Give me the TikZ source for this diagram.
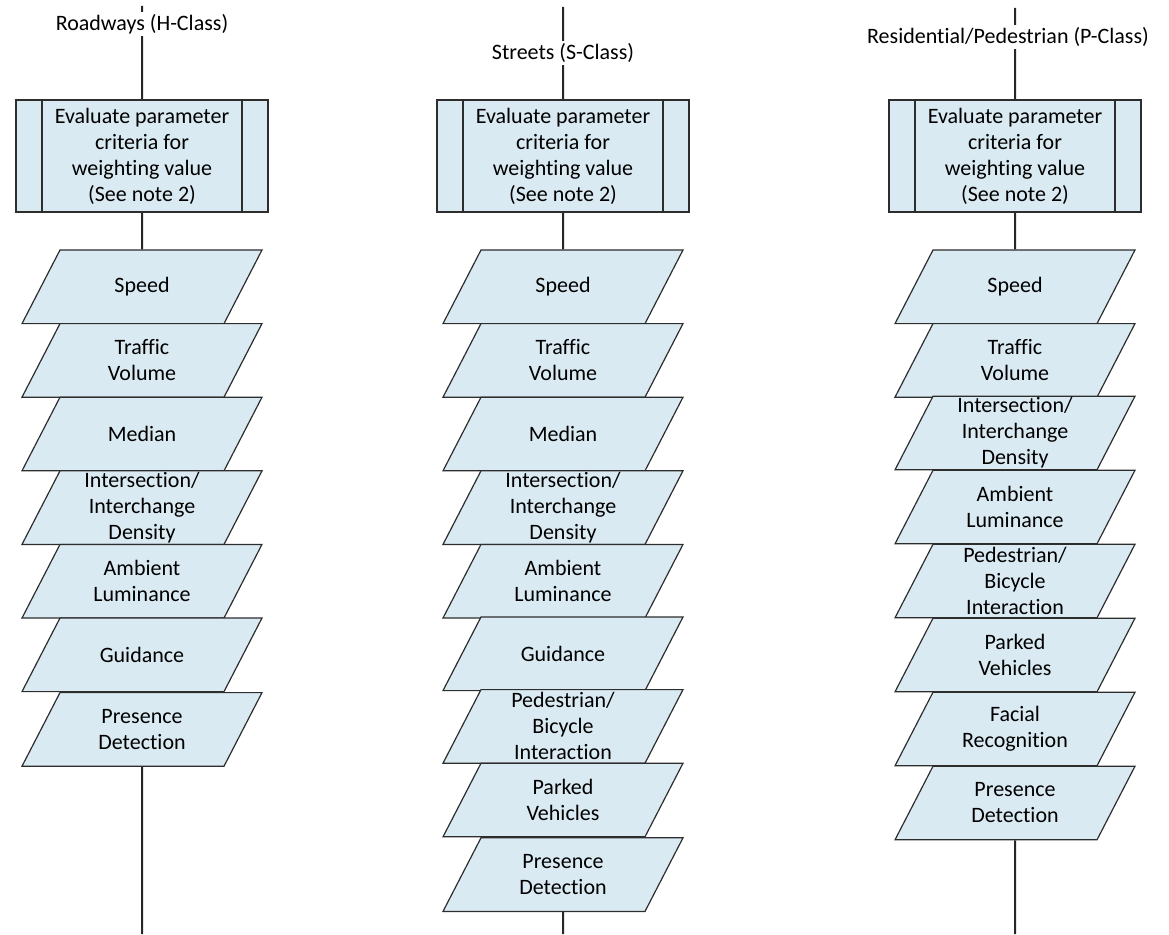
\documentclass[tikz,border=0pt]{standalone}
\usepackage{fontspec}
\setmainfont{Carlito}[Ligatures=CommonOff]
\usepackage{tikz}
\usetikzlibrary{positioning}
\usetikzlibrary{shapes.geometric}
\usetikzlibrary{backgrounds}
\usepackage{xcolor}

\definecolor{boxblue}{RGB}{218,234,242}
\definecolor{edge}{RGB}{45,45,45}
\newcommand{\boxfont}{\fontsize{22}{26}\selectfont}
% fixed text box, so every parallelogram gets the same size and slant
\newcommand{\ptext}[1]{\parbox[c][73.6pt][c]{164pt}{\centering #1}}

\tikzset{
    cls/.style={fill=white, inner sep=2pt, font=\boxfont},
    evalbox/.style={rectangle, draw=edge, line width=1.2pt, fill=boxblue,
        minimum width=252pt, minimum height=112pt, inner sep=0pt,
        align=center, font=\boxfont,
        path picture={
            \draw[edge, line width=1.2pt]
                ([xshift=26pt]path picture bounding box.north west) -- ([xshift=26pt]path picture bounding box.south west)
                ([xshift=-26pt]path picture bounding box.north east) -- ([xshift=-26pt]path picture bounding box.south east);
        }},
    param/.style={trapezium, trapezium left angle=62.7, trapezium right angle=117.3,
        draw=edge, line width=1.2pt, fill=boxblue, inner sep=0pt, font=\boxfont},
    conn/.style={draw=black!85, line width=2pt}
}

\begin{document}
\begin{tikzpicture}[x=1pt, y=-1pt]
            \useasboundingbox (0,0) rectangle (1169,934);

            % Roadways
            \coordinate (htop) at (142, 6);
            \node[cls] (hcls) at (142, 24) {Roadways (H-Class)};
            \node[evalbox] (heval) at (142, 156) {Evaluate parameter\\criteria for\\weighting value\\(See note 2)};
            \node[param] (h1) at (142, 286.8) {\ptext{Speed}};
            \node[param] (h2) at (142, 360.4) {\ptext{Traffic\\Volume}};
            \node[param] (h3) at (142, 434.0) {\ptext{Median}};
            \node[param] (h4) at (142, 507.6) {\ptext{Intersection/\\Interchange\\Density}};
            \node[param] (h5) at (142, 581.2) {\ptext{Ambient\\Luminance}};
            \node[param] (h6) at (142, 654.8) {\ptext{Guidance}};
            \node[param] (h7) at (142, 729.4) {\ptext{Presence\\Detection}};
            \coordinate (hbot) at (142, 934);

            % Streets
            \coordinate (stop) at (563, 7);
            \node[cls] (scls) at (563, 53) {Streets (S-Class)};
            \node[evalbox] (seval) at (563, 156) {Evaluate parameter\\criteria for\\weighting value\\(See note 2)};
            \node[param] (s1) at (563, 286.8) {\ptext{Speed}};
            \node[param] (s2) at (563, 360.4) {\ptext{Traffic\\Volume}};
            \node[param] (s3) at (563, 434.0) {\ptext{Median}};
            \node[param] (s4) at (563, 507.6) {\ptext{Intersection/\\Interchange\\Density}};
            \node[param] (s5) at (563, 581.2) {\ptext{Ambient\\Luminance}};
            \node[param] (s6) at (563, 653.8) {\ptext{Guidance}};
            \node[param] (s7) at (563, 726.4) {\ptext{Pedestrian/\\Bicycle\\Interaction}};
            \node[param] (s8) at (563, 800.0) {\ptext{Parked\\Vehicles}};
            \node[param] (s9) at (563, 874.6) {\ptext{Presence\\Detection}};
            \coordinate (sbot) at (563, 934);

            % Residential/Pedestrian
            \coordinate (ptop) at (1015, 8);
            \node[cls] (pcls) at (1008, 37) {Residential/Pedestrian (P-Class)};
            \node[evalbox] (peval) at (1015, 156) {Evaluate parameter\\criteria for\\weighting value\\(See note 2)};
            \node[param] (p1) at (1015, 286.8) {\ptext{Speed}};
            \node[param] (p2) at (1015, 360.4) {\ptext{Traffic\\Volume}};
            \node[param] (p3) at (1015, 433.0) {\ptext{Intersection/\\Interchange\\Density}};
            \node[param] (p4) at (1015, 507.0) {\ptext{Ambient\\Luminance}};
            \node[param] (p5) at (1015, 581.0) {\ptext{Pedestrian/\\Bicycle\\Interaction}};
            \node[param] (p6) at (1015, 655.0) {\ptext{Parked\\Vehicles}};
            \node[param] (p7) at (1015, 729.0) {\ptext{Facial\\Recognition}};
            \node[param] (p8) at (1015, 803.0) {\ptext{Presence\\Detection}};
            \coordinate (pbot) at (1015, 934);

            \begin{scope}[on background layer]
                \draw[conn] (htop) -- (heval) (heval) -- (h1) (h7) -- (hbot);
                \draw[conn] (stop) -- (seval) (seval) -- (s1) (s9) -- (sbot);
                \draw[conn] (ptop) -- (peval) (peval) -- (p1) (p8) -- (pbot);
            \end{scope}
        \end{tikzpicture}
\end{document}
